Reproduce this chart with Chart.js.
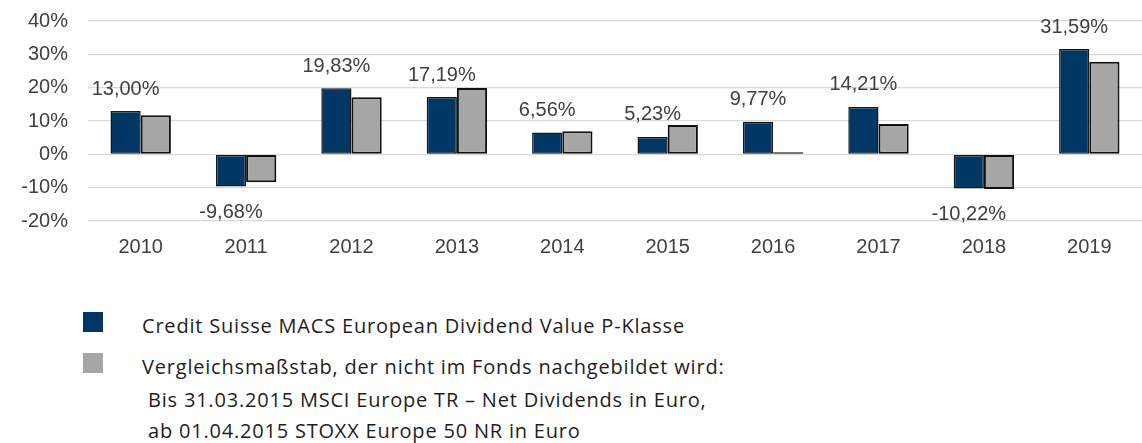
<!DOCTYPE html>
<html>
<head>
<meta charset="utf-8">
<script src="https://cdn.jsdelivr.net/npm/chart.js@4.4.1/dist/chart.umd.min.js"></script>
<style>
  html, body { margin: 0; padding: 0; background: #fff; }
  body { width: 1142px; height: 443px; position: relative; overflow: hidden; }
  #wrap { position: absolute; left: 0; top: 0; width: 1142px; height: 270px; }
  .sw { position: absolute; width: 20px; height: 20px; }
  .lg { position: absolute; font-family: "Open Sans", Lato, sans-serif; font-size: 20px; letter-spacing: 0.8px; color: #1e1e1e; white-space: nowrap; line-height: 24px; }
</style>
</head>
<body>
<div id="wrap"><canvas id="c" width="1142" height="270"></canvas></div>
<div class="sw" style="left:83px;top:312px;background:#003764;"></div>
<div class="sw" style="left:83px;top:353px;background:#a6a6a6;"></div>
<div class="lg" id="l1" style="left:142px;top:314px;">Credit Suisse MACS European Dividend Value P-Klasse</div>
<div class="lg" id="l2" style="left:142px;top:355px;">Vergleichsmaßstab, der nicht im Fonds nachgebildet wird:</div>
<div class="lg" id="l3" style="left:148px;top:388px;">Bis 31.03.2015 MSCI Europe TR – Net Dividends in Euro,</div>
<div class="lg" id="l4" style="left:148px;top:419px;">ab 01.04.2015 STOXX Europe 50 NR in Euro</div>
<script>
const years = ['2010','2011','2012','2013','2014','2015','2016','2017','2018','2019'];
const fundReturns = [13.00, -9.68, 19.83, 17.19, 6.56, 5.23, 9.77, 14.21, -10.22, 31.59];
const benchmarkReturns = [11.7, -8.4, 17.1, 19.9, 6.9, 8.8, 0.6, 9.1, -10.4, 27.8];
const fundLabels = ['13,00%','-9,68%','19,83%','17,19%','6,56%','5,23%','9,77%','14,21%','-10,22%','31,59%'];
const yTicks = [-20, -10, 0, 10, 20, 30, 40];

const labelPlugin = {
  id: 'valueLabels',
  afterDatasetsDraw(chart) {
    const ctx = chart.ctx;
    const meta = chart.getDatasetMeta(0);
    ctx.save();
    ctx.font = '20px "Liberation Sans", Arial, sans-serif';
    ctx.fillStyle = '#404040';
    ctx.textAlign = 'center';
    ctx.textBaseline = 'middle';
    meta.data.forEach((bar, i) => {
      const v = fundReturns[i];
      const y = v >= 0 ? bar.y - 22 : bar.y + 26;
      ctx.fillText(fundLabels[i], bar.x, y);
    });
    ctx.restore();
  }
};

new Chart(document.getElementById('c'), {
  type: 'bar',
  data: {
    labels: years,
    datasets: [
      { label: 'Credit Suisse MACS European Dividend Value P-Klasse', data: fundReturns, backgroundColor: '#003764', borderColor: '#101820', borderWidth: 1.5, borderSkipped: false },
      { label: 'Vergleichsmaßstab', data: benchmarkReturns, backgroundColor: '#a6a6a6', borderColor: '#111111', borderWidth: 2, borderSkipped: false }
    ]
  },
  options: {
    responsive: false,
    animation: false,
    events: [],
    layout: { padding: { top: 21, right: 0, left: 0, bottom: 0 } },
    datasets: { bar: { categoryPercentage: 0.573, barPercentage: 1.0 } },
    plugins: { legend: { display: false }, tooltip: { enabled: false } },
    scales: {
      x: {
        grid: { display: false, drawTicks: false },
        border: { display: false },
        ticks: { color: '#404040', font: { family: '"Liberation Sans", Arial, sans-serif', size: 20 }, padding: 14, maxRotation: 0 },
        afterFit(s) { s.height = 49; s.paddingLeft = 0; s.paddingRight = 0; }
      },
      y: {
        min: -20, max: 40,
        afterBuildTicks(s) { s.ticks = yTicks.map(v => ({ value: v })); },
        grid: { color: '#d9d9d9', lineWidth: 1.3, drawTicks: false },
        border: { display: false },
        ticks: { color: '#404040', font: { family: '"Liberation Sans", Arial, sans-serif', size: 20 }, padding: 20, callback: v => v + '%' },
        afterFit(s) { s.width = 88; s.paddingTop = 0; s.paddingBottom = 0; }
      }
    }
  },
  plugins: [labelPlugin]
});
</script>
</body>
</html>
